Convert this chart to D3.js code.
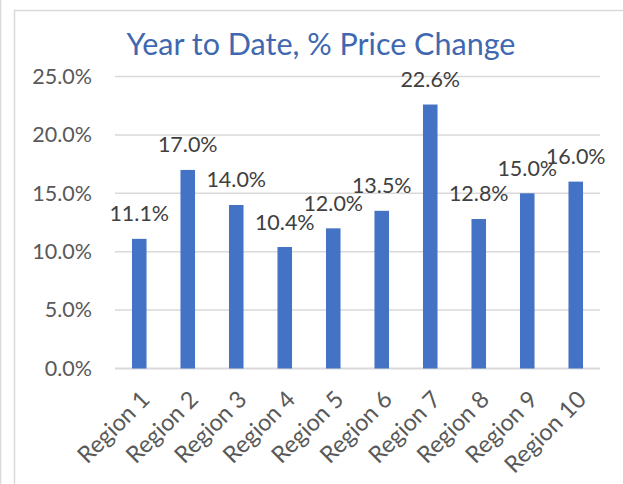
<!DOCTYPE html>
<html>
<head>
<meta charset="utf-8">
<script src="https://cdn.jsdelivr.net/npm/d3@7"></script>
<style>
	body { margin: 0; background: white; }
	svg { display: block; }
	text { font-family: Lato, 'Open Sans', sans-serif; }
</style>
</head>
<body>
<div id="grafic"></div>
<script>
// dades
var regions = ['Region 1', 'Region 2', 'Region 3', 'Region 4', 'Region 5',
	'Region 6', 'Region 7', 'Region 8', 'Region 9', 'Region 10'];
var canvis = [11.1, 17.0, 14.0, 10.4, 12.0, 13.5, 22.6, 12.8, 15.0, 16.0];
var marques = [0, 5, 10, 15, 20, 25];
var titol = 'Year to Date, % Price Change';

var Amplada = 623, Alçada = 484;
var marge = {dalt: 76.5, dreta: 23, baix: 115.5, esquerra: 115};

var svg = d3.select('#grafic')
	.append('svg')
		.attr('width', Amplada)
		.attr('height', Alçada);

// vores de la imatge
svg.append('line')
	.attr('x1', 0.5).attr('x2', 0.5)
	.attr('y1', 0).attr('y2', Alçada)
	.attr('stroke', '#d9d9d9')
	.attr('stroke-width', 1.5);
svg.append('rect')
	.attr('x', 14.5).attr('y', 10.5)
	.attr('width', 700).attr('height', 600)
	.attr('fill', 'white')
	.attr('stroke', '#d9d9d9')
	.attr('stroke-width', 1.5);

var x = d3.scaleBand()
	.domain(regions)
	.range([marge.esquerra, Amplada - marge.dreta])
	.paddingInner(0.7)
	.paddingOuter(0.35);

var y = d3.scaleLinear()
	.domain([0, 25])
	.range([Alçada - marge.baix, marge.dalt]);

// graella
svg.append('g')
	.selectAll('line')
	.data(marques)
	.enter()
	.append('line')
		.attr('x1', marge.esquerra)
		.attr('x2', Amplada - marge.dreta)
		.attr('y1', d => y(d))
		.attr('y2', d => y(d))
		.attr('stroke', '#d9d9d9')
		.attr('stroke-width', d => d === 0 ? 2 : 1.5);

// eix Y
var eixY = d3.axisLeft(y)
	.tickValues(marques)
	.tickFormat(d => d3.format('.1f')(d) + '%')
	.tickSize(0)
	.tickPadding(23);
svg.append('g')
	.attr('transform', `translate(${marge.esquerra},0)`)
	.call(eixY)
	.call(g => g.select('.domain').remove())
	.selectAll('text')
		.attr('font-family', 'Lato, sans-serif')
		.attr('font-size', 21.5)
		.attr('fill', '#595959');

// barres
svg.append('g')
	.selectAll('rect')
	.data(canvis)
	.enter()
	.append('rect')
		.attr('x', (d, i) => x(regions[i]))
		.attr('width', x.bandwidth())
		.attr('y', d => y(d))
		.attr('height', d => y(0) - y(d))
		.attr('fill', '#4472c4');

// etiquetes de valor
svg.append('g')
	.selectAll('text')
	.data(canvis)
	.enter()
	.append('text')
		.attr('x', (d, i) => x(regions[i]) + x.bandwidth() / 2)
		.attr('y', d => y(d) - 17.5)
		.attr('text-anchor', 'middle')
		.attr('font-size', 21.5)
		.attr('fill', '#404040')
		.text(d => d3.format('.1f')(d) + '%');

// etiquetes de categoria
svg.append('g')
	.selectAll('text')
	.data(regions)
	.enter()
	.append('text')
		.attr('transform', d => `translate(${x(d) + x.bandwidth() / 2},389) rotate(-45)`)
		.attr('dy', '0.72em')
		.attr('text-anchor', 'end')
		.attr('font-size', 23.5)
		.attr('fill', '#595959')
		.text(d => d);

// títol
svg.append('text')
	.attr('x', 321)
	.attr('y', 55)
	.attr('text-anchor', 'middle')
	.attr('font-size', 30.5)
	.attr('fill', '#3f68b0')
	.text(titol);
</script>
</body>
</html>
